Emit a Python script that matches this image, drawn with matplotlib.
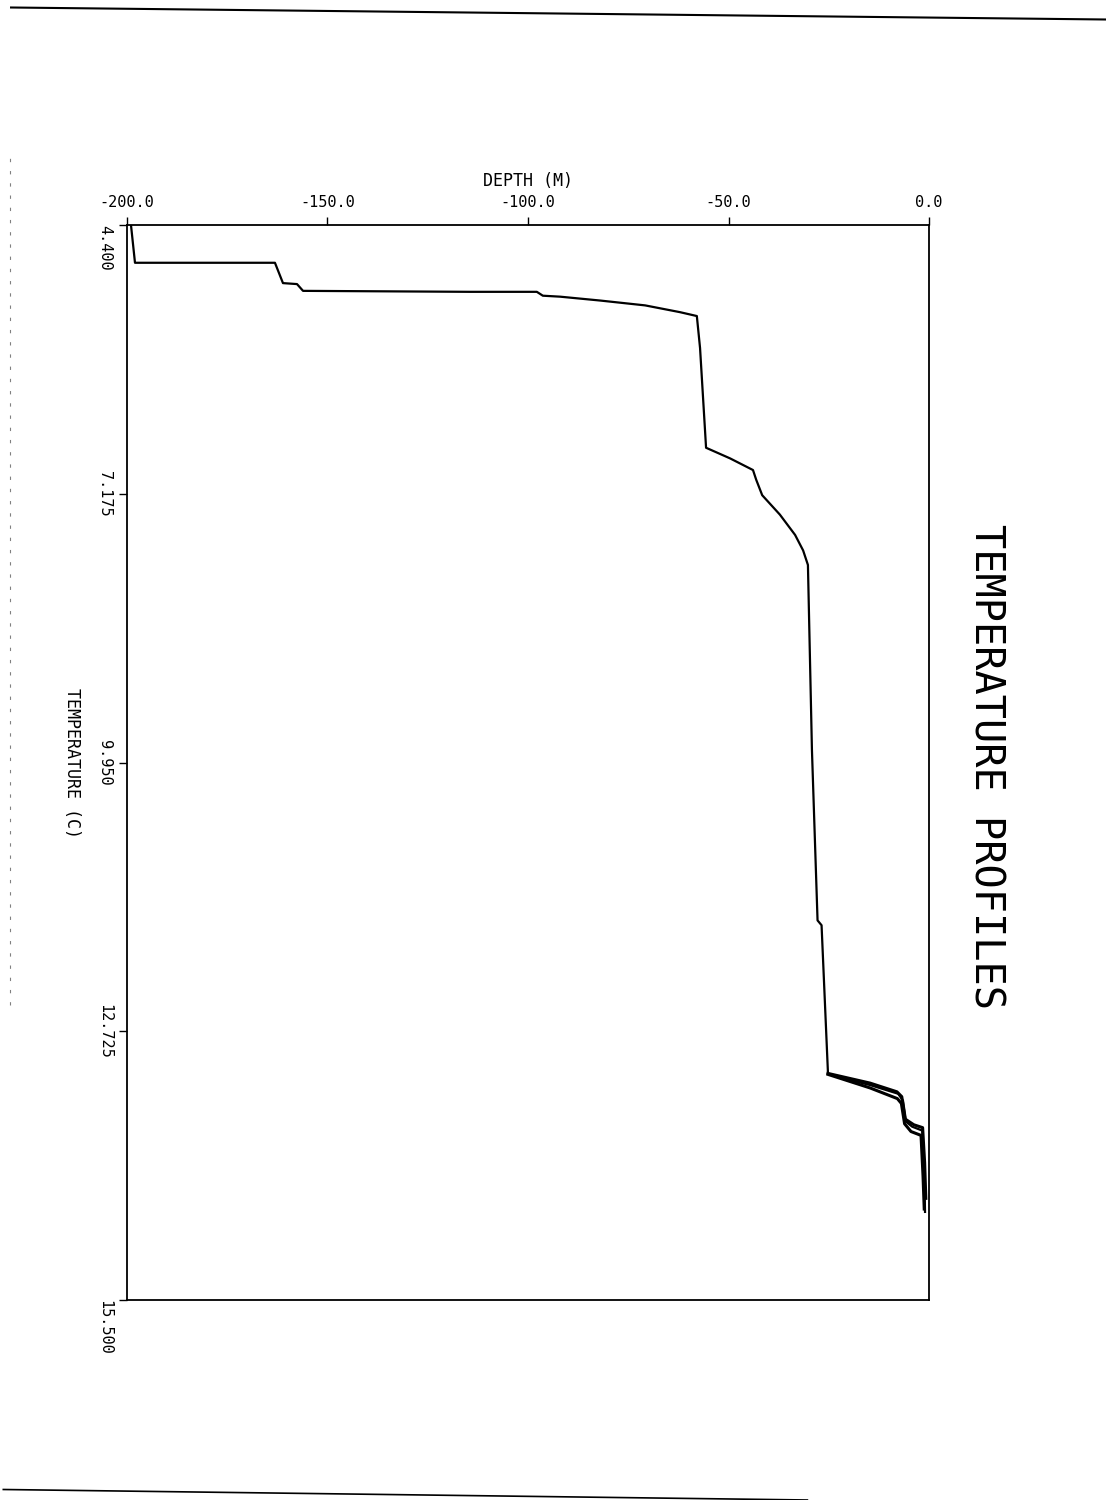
#import the necessary libraries
import numpy as np
import matplotlib.pyplot as plt
from matplotlib.lines import Line2D

# main temperature profile (depth in m, temperature in C)
depth = [-199.0, -198.0, -163.1, -161.1, -157.6, -156.1, -114.5, -97.8, -96.3, -92.0,
         -82.0, -70.8, -62.1, -57.9, -57.1, -55.6, -49.6, -43.9, -43.1, -41.6,
         -37.2, -33.4, -31.4, -30.2, -29.2, -27.8, -26.8, -25.2, -23.4, -14.7,
         -7.7, -6.5, -5.7, -4.2, -1.7, -1.2, -1.0]
temp = [4.40, 4.79, 4.79, 5.00, 5.01, 5.08, 5.09, 5.09, 5.13, 5.14,
        5.18, 5.23, 5.30, 5.34, 5.67, 6.70, 6.81, 6.93, 7.03, 7.19,
        7.39, 7.60, 7.76, 7.91, 9.82, 11.58, 11.63, 13.16, 13.19, 13.28,
        13.37, 13.44, 13.66, 13.71, 13.75, 14.16, 14.59]

# the other profiles only differ near the surface
depth_b = [-25.2, -14.7, -8.0, -6.8, -6.0, -3.8, -1.6, -1.1, -0.8]
temp_b = [13.16, 13.26, 13.35, 13.40, 13.63, 13.69, 13.72, 14.08, 14.45]
depth_c = [-25.2, -14.7, -7.9, -6.9, -6.1, -4.5, -2.0, -1.5, -1.2]
temp_c = [13.17, 13.31, 13.42, 13.47, 13.68, 13.76, 13.80, 14.22, 14.56]

depth_ticks = [-200.0, -150.0, -100.0, -50.0, 0.0]
temp_ticks = [4.400, 7.175, 9.950, 12.725, 15.500]

font = 'DejaVu Sans Mono'

fig = plt.figure(figsize=(11.06, 15), dpi=100)
ax = fig.add_axes([0.1148, 0.1333, 0.7252, 0.7167])

ax.plot(depth, temp, color='black', linewidth=1.6)
ax.plot(depth_b, temp_b, color='black', linewidth=2.2)
ax.plot(depth_c, temp_c, color='black', linewidth=2.2)

ax.set_xlim(-200, 0)
ax.set_ylim(15.5, 4.4)
ax.xaxis.tick_top()
ax.xaxis.set_label_position('top')
ax.set_xticks(depth_ticks)
ax.set_xticklabels(['%.1f' % v for v in depth_ticks], fontfamily=font, fontsize=11)
ax.set_yticks(temp_ticks)
ax.set_yticklabels(['%.3f' % v for v in temp_ticks], fontfamily=font, fontsize=11,
                   rotation=-90)
ax.tick_params(axis='both', direction='out', length=6, width=1, color='black', pad=5)
for s in ax.spines.values():
    s.set_linewidth(1.3)

labels = ax.get_yticklabels()
for i, lab in enumerate(labels):
    lab.set_va('center')
labels[0].set_va('top')
labels[-1].set_va('top')

ax.set_xlabel('DEPTH (M)', fontfamily=font, fontsize=12, labelpad=6)
ax.set_ylabel('TEMPERATURE (C)', fontfamily=font, fontsize=12, rotation=-90,
              labelpad=18, va='center')

fig.text(0.891, 0.489, 'TEMPERATURE PROFILES', fontfamily=font, fontsize=29,
         rotation=-90, ha='center', va='center')

# page edges from the scan
fig.add_artist(Line2D([0.01, 1.0], [0.995, 0.987], transform=fig.transFigure,
                      color='black', linewidth=1.5))
fig.add_artist(Line2D([0.003, 0.73], [0.007, 0.0], transform=fig.transFigure,
                      color='black', linewidth=1.2))
fig.add_artist(Line2D([0.009, 0.009], [0.33, 0.9], transform=fig.transFigure,
                      color='gray', linewidth=0.8, linestyle=(0, (3, 8))))

plt.savefig('out.png', dpi=100)
